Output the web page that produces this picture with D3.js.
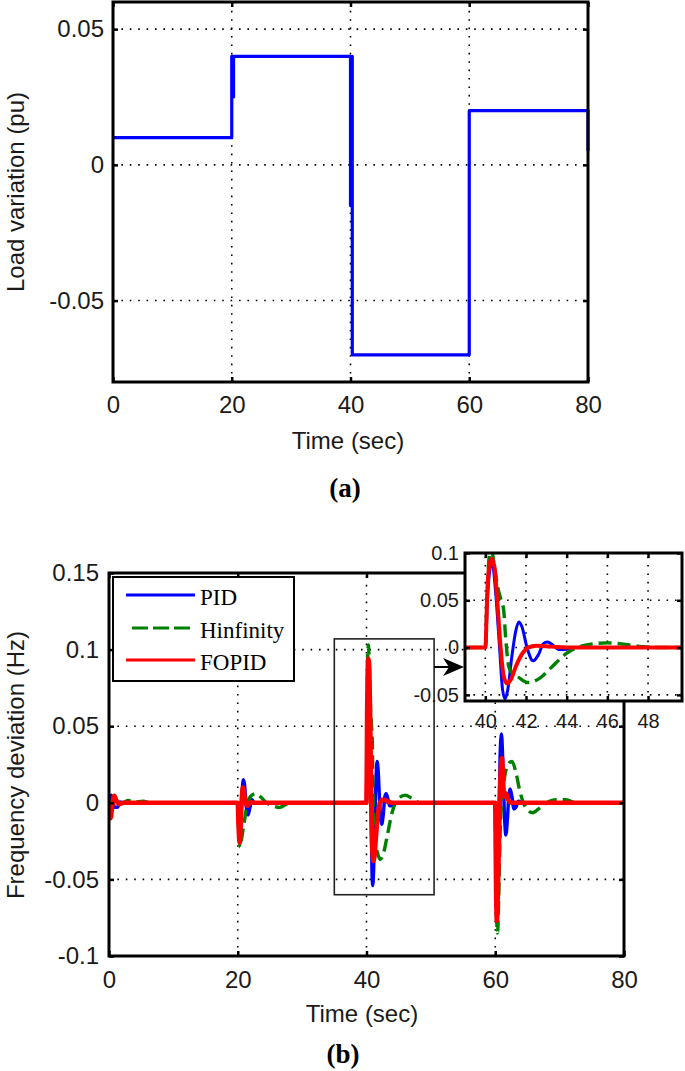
<!DOCTYPE html>
<html><head><meta charset="utf-8">
<script src="https://cdn.jsdelivr.net/npm/d3@7"></script>
<style>
html,body{margin:0;padding:0;background:#fff;}
svg{display:block;}
</style></head>
<body>
<script>
// ---------- DATA ----------
// (a) load variation
const loadT = [0, 20, 20, 20.3, 20.3, 20.3, 40, 40, 40.3, 40.3, 40.3, 60, 60, 80, 80];
const loadV = [0.01, 0.01, 0.04, 0.04, 0.025, 0.04, 0.04, -0.015, -0.015, 0.04, -0.07, -0.07, 0.02, 0.02, 0.005];
const topXTicks = [0, 20, 40, 60, 80];
const topYTicks = [-0.05, 0, 0.05];

// (b) frequency deviation
const seriesNames = ["PID", "Hinfinity", "FOPID"];
const seriesColors = ["#0000ff", "#008000", "#ff0000"];

const pidT = [0, 0.15, 0.35, 0.6, 0.9, 1.3, 1.7, 2.3,
  20, 20.15, 20.35, 20.6, 20.85, 21.05, 21.3, 21.6, 21.9, 22.2, 22.6, 23.2,
  40, 40.1, 40.25, 40.35, 40.5, 40.7, 40.85, 40.97, 41.1, 41.3, 41.5, 41.65, 41.8, 42.05, 42.35, 42.6, 42.85, 43.05, 43.3, 43.6, 43.9, 44.3, 45,
  60, 60.1, 60.3, 60.5, 60.75, 60.97, 61.15, 61.4, 61.65, 61.9, 62.1, 62.3, 62.6, 62.9, 63.2, 63.6, 64.2, 80];
const pidV = [0, 0.003, 0.005, 0.001, -0.003, -0.003, 0.0005, 0,
  0, -0.015, -0.025, 0.0, 0.015, 0.012, -0.002, -0.008, -0.003, 0.002, 0.0, 0,
  0, 0.05, 0.085, 0.088, 0.06, 0.0, -0.045, -0.054, -0.045, -0.01, 0.018, 0.027, 0.022, 0.0, -0.014, -0.008, 0.004, 0.006, 0.003, -0.002, -0.002, 0, 0,
  0, -0.03, -0.062, -0.03, 0.03, 0.045, 0.03, -0.005, -0.021, -0.01, 0.004, 0.009, 0.004, -0.004, -0.003, 0.001, 0, 0];

const hinfT = [0, 0.2, 0.5, 1, 2, 3, 4, 5.3, 6.5,
  20, 20.15, 20.4, 20.65, 21.0, 21.5, 22.2, 22.8, 23.5, 24.5, 25.5, 26.5, 27.5, 28.5,
  40, 40.08, 40.2, 40.3, 40.45, 40.6, 40.75, 40.9, 41.0, 41.15, 41.3, 41.6, 42.1, 42.7, 43.2, 44.0, 44.8, 46.0, 47.0, 47.7, 48.5,
  60, 60.1, 60.35, 60.55, 60.75, 61.0, 61.5, 62.0, 62.6, 63.2, 63.8, 64.6, 65.8, 67.0, 68.0, 69.5, 71.0, 72.5, 80];
const hinfV = [0, -0.003, 0.002, 0.001, 0.0, 0.0015, 0.0005, 0.001, 0,
  0, -0.018, -0.029, -0.022, -0.013, 0.0, 0.005, 0.006, 0.004, 0.0, -0.002, -0.003, -0.001, 0,
  0, 0.05, 0.098, 0.103, 0.085, 0.065, 0.052, 0.04, 0.01, -0.02, -0.027, -0.031, -0.037, -0.032, -0.022, -0.006, 0.002, 0.005, 0.003, 0.001, 0,
  0, -0.05, -0.085, -0.06, -0.02, 0.0, 0.018, 0.025, 0.027, 0.02, 0.008, -0.002, -0.0065, -0.003, 0, 0.002, 0.002, 0, 0];

const fopidT = [0, 0.1, 0.25, 0.5, 0.8, 1.2, 1.6, 2.2,
  20, 20.1, 20.3, 20.5, 20.8, 21.1, 21.5, 22.0, 22.5,
  40, 40.1, 40.2, 40.3, 40.45, 40.6, 40.75, 40.9, 41.07, 41.25, 41.5, 41.8, 42.1, 42.5, 43.0, 43.5, 44,
  60, 60.1, 60.25, 60.45, 60.7, 60.9, 61.05, 61.25, 61.45, 61.7, 62.0, 62.5, 80];
const fopidV = [0, -0.004, -0.01, -0.002, 0.0045, 0.001, -0.001, 0,
  0, -0.012, -0.026, -0.008, 0.01, 0.003, -0.002, 0.0005, 0,
  0, 0.06, 0.088, 0.094, 0.085, 0.045, 0.0, -0.03, -0.038, -0.034, -0.02, -0.007, 0.0, 0.002, 0.0015, 0.0005, 0,
  0, -0.045, -0.077, -0.05, 0.0, 0.025, 0.029, 0.01, 0.004, 0.006, 0.002, 0, 0];

const botXTicks = [0, 20, 40, 60, 80];
const botYTicks = [-0.1, -0.05, 0, 0.05, 0.1, 0.15];
const zoomBoxT = [35, 50.5];
const zoomBoxV = [-0.06, 0.107];
const insetXDomain = [39, 49.67];
const insetYDomain = [-0.0565, 0.1];
const insetXTicks = [40, 42, 44, 46, 48];
const insetYTicks = [-0.05, 0, 0.05, 0.1];

// ---------- DRAW ----------
const W = 685, H = 1071;
const svg = d3.select("body").append("svg").attr("width", W).attr("height", H);
const fmt = d => (d === 0 ? "0" : String(d));
const SANS = '"Liberation Sans",Arial,sans-serif';
const SERIF = '"Liberation Serif","Times New Roman",serif';
const TXT = "#1a1a1a";
const zip = (T, V) => T.map((t, i) => [t, V[i]]);

function gridLines(g, x, y, xt, yt) {
  const [x0, x1] = x.range(), [y0, y1] = y.range();
  g.selectAll(".gx").data(xt).join("line")
    .attr("x1", d => x(d)).attr("x2", d => x(d)).attr("y1", y0).attr("y2", y1)
    .attr("stroke", "#000").attr("stroke-width", 1.6).attr("stroke-dasharray", "1.6,6.8");
  g.selectAll(".gy").data(yt).join("line")
    .attr("y1", d => y(d)).attr("y2", d => y(d)).attr("x1", x0).attr("x2", x1)
    .attr("stroke", "#000").attr("stroke-width", 1.6).attr("stroke-dasharray", "1.6,6.8");
}

function axes(g, x, y, xt, yt, fs, padX, padY) {
  const [x0, x1] = x.range(), [y0, y1] = y.range();
  const styleAx = sel => {
    sel.select(".domain").remove();
    sel.selectAll(".tick line").attr("stroke", "#000").attr("stroke-width", 2.5);
    sel.selectAll(".tick text").attr("font-size", fs).attr("font-family", SANS).attr("fill", TXT);
  };
  g.append("g").attr("transform", `translate(0,${y0})`)
    .call(d3.axisBottom(x).tickValues(xt).tickSize(-5).tickPadding(padX).tickFormat(fmt))
    .call(styleAx);
  g.append("g").attr("transform", `translate(0,${y1})`)
    .call(d3.axisTop(x).tickValues(xt).tickSize(-5).tickFormat("")).call(styleAx);
  g.append("g").attr("transform", `translate(${x0},0)`)
    .call(d3.axisLeft(y).tickValues(yt).tickSize(-5).tickPadding(padY).tickFormat(fmt))
    .call(styleAx);
  g.append("g").attr("transform", `translate(${x1},0)`)
    .call(d3.axisRight(y).tickValues(yt).tickSize(-5).tickFormat("")).call(styleAx);
}

// ===== (a) =====
const xA = d3.scaleLinear().domain([0, 80]).range([113, 588]);
const yA = d3.scaleLinear().domain([-0.08, 0.06]).range([382, 2]);
const gA = svg.append("g");
gridLines(gA.append("g"), xA, yA, [20, 40, 60], topYTicks);
gA.append("path").datum(zip(loadT, loadV))
  .attr("d", d3.line().x(d => xA(d[0])).y(d => yA(d[1])))
  .attr("fill", "none").attr("stroke", "#0000ff").attr("stroke-width", 3.2)
  .attr("stroke-linejoin", "round");
axes(gA, xA, yA, topXTicks, topYTicks, 24, 14, 9);
gA.append("rect").attr("x", 113).attr("y", 2).attr("width", 475).attr("height", 380)
  .attr("fill", "none").attr("stroke", "#000").attr("stroke-width", 3);
gA.append("text").attr("x", 348).attr("y", 449).attr("text-anchor", "middle")
  .attr("font-family", SANS).attr("font-size", 24).attr("fill", TXT).text("Time (sec)");
gA.append("text").attr("transform", "translate(24,192) rotate(-90)").attr("text-anchor", "middle")
  .attr("font-family", SANS).attr("font-size", 24).attr("fill", TXT).text("Load variation (pu)");
gA.append("text").attr("x", 345).attr("y", 497).attr("text-anchor", "middle")
  .attr("font-family", SERIF).attr("font-weight", "bold").attr("font-size", 27).attr("fill", "#000").text("(a)");

// ===== (b) =====
const xB = d3.scaleLinear().domain([0, 80]).range([109, 624]);
const yB = d3.scaleLinear().domain([-0.1, 0.15]).range([956, 573]);
const gB = svg.append("g");
const defs = svg.append("defs");
defs.append("clipPath").attr("id", "clipB").append("rect")
  .attr("x", 109).attr("y", 573).attr("width", 515).attr("height", 383);
gridLines(gB.append("g"), xB, yB, [20, 40, 60], [-0.05, 0, 0.05, 0.1]);

const series = [zip(pidT, pidV), zip(hinfT, hinfV), zip(fopidT, fopidV)];
const widthsB = [3.4, 3.4, 4.6];
const dashes = [null, "13,6", null];
const lineB = d3.line().x(d => xB(d[0])).y(d => yB(d[1])).curve(d3.curveMonotoneX);
const gLines = gB.append("g").attr("clip-path", "url(#clipB)");
series.forEach((s, i) => {
  gLines.append("path").datum(s).attr("d", lineB).attr("fill", "none")
    .attr("stroke", seriesColors[i]).attr("stroke-width", widthsB[i])
    .attr("stroke-dasharray", dashes[i]).attr("stroke-linejoin", "round");
});
axes(gB, xB, yB, botXTicks, botYTicks, 24, 15, 10);
gB.append("rect").attr("x", 109).attr("y", 573).attr("width", 515).attr("height", 383)
  .attr("fill", "none").attr("stroke", "#000").attr("stroke-width", 3);

// zoom box
gB.append("rect").attr("x", xB(zoomBoxT[0])).attr("y", yB(zoomBoxV[1]))
  .attr("width", xB(zoomBoxT[1]) - xB(zoomBoxT[0])).attr("height", yB(zoomBoxV[0]) - yB(zoomBoxV[1]))
  .attr("fill", "none").attr("stroke", "#222").attr("stroke-width", 1.6);

// legend
const lg = gB.append("g");
lg.append("rect").attr("x", 113).attr("y", 577).attr("width", 181).attr("height", 104)
  .attr("fill", "#fff").attr("stroke", "#000").attr("stroke-width", 2);
const legY = [595, 628, 660];
seriesNames.forEach((n, i) => {
  lg.append("line").attr("x1", i === 1 ? 132 : 126).attr("x2", 195).attr("y1", legY[i]).attr("y2", legY[i])
    .attr("stroke", seriesColors[i]).attr("stroke-width", 3).attr("stroke-dasharray", i === 1 ? "16,5" : null);
  lg.append("text").attr("x", 200).attr("y", legY[i] + 10).attr("font-family", SERIF)
    .attr("font-size", 23).attr("fill", "#000").text(n);
});

// inset
const xI = d3.scaleLinear().domain(insetXDomain).range([465, 682]);
const yI = d3.scaleLinear().domain(insetYDomain).range([701, 553]);
defs.append("clipPath").attr("id", "clipI").append("rect")
  .attr("x", 465).attr("y", 553).attr("width", 217).attr("height", 148);
const gI = svg.append("g");
gI.append("rect").attr("x", 465).attr("y", 553).attr("width", 217).attr("height", 148).attr("fill", "#fff");
gridLines(gI.append("g"), xI, yI, insetXTicks, [-0.05, 0, 0.05]);
const lineI = d3.line().x(d => xI(d[0])).y(d => yI(d[1])).curve(d3.curveMonotoneX);
const gIL = gI.append("g").attr("clip-path", "url(#clipI)");
const widthsI = [3, 3.4, 4];
series.forEach((s, i) => {
  gIL.append("path").datum(s).attr("d", lineI).attr("fill", "none")
    .attr("stroke", seriesColors[i]).attr("stroke-width", widthsI[i])
    .attr("stroke-dasharray", dashes[i]).attr("stroke-linejoin", "round");
});
axes(gI, xI, yI, insetXTicks, insetYTicks, 20, 13, 6);
gI.append("rect").attr("x", 465).attr("y", 553).attr("width", 217).attr("height", 148)
  .attr("fill", "none").attr("stroke", "#000").attr("stroke-width", 3);

// arrow from zoom box to inset
const ay = 667;
gB.append("line").attr("x1", xB(zoomBoxT[1])).attr("x2", 452).attr("y1", ay).attr("y2", ay)
  .attr("stroke", "#000").attr("stroke-width", 2);
gB.append("path").attr("d", `M464,${ay} L443,${ay - 9} L449,${ay} L443,${ay + 9} Z`).attr("fill", "#000");

gB.append("text").attr("x", 362).attr("y", 1022).attr("text-anchor", "middle")
  .attr("font-family", SANS).attr("font-size", 24).attr("fill", TXT).text("Time (sec)");
gB.append("text").attr("transform", "translate(24,765) rotate(-90)").attr("text-anchor", "middle")
  .attr("font-family", SANS).attr("font-size", 24).attr("fill", TXT).text("Frequency deviation (Hz)");
gB.append("text").attr("x", 343).attr("y", 1063).attr("text-anchor", "middle")
  .attr("font-family", SERIF).attr("font-weight", "bold").attr("font-size", 27).attr("fill", "#000").text("(b)");
</script>
</body></html>
